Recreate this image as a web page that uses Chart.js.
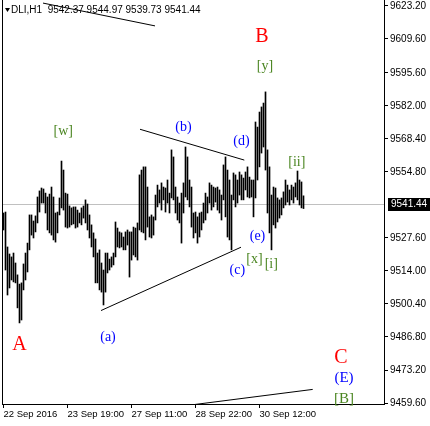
<!DOCTYPE html>
<html>
<head>
<meta charset="utf-8">
<script src="https://cdn.jsdelivr.net/npm/chart.js@4.4.0/dist/chart.umd.min.js"></script>
<style>
  html, body { margin: 0; padding: 0; background: #fff; }
  canvas { display: block; }
</style>
</head>
<body>
<canvas id="chart" width="430" height="426"></canvas>
<script>
// DLI, H1 bars (high / low), oldest first
const barHigh = [
  9537.9, 9538.3, 9523.9, 9521.0, 9519.8, 9521.4, 9517.3, 9512.4, 9508.6, 9509.1,
  9516.9, 9521.4, 9525.5, 9537.1, 9537.1, 9534.6, 9536.7, 9544.5, 9547.0, 9548.2,
  9547.8, 9546.1, 9544.5, 9545.7, 9548.6, 9544.5, 9537.9, 9538.3, 9544.1, 9559.3,
  9555.6, 9546.1, 9545.7, 9540.8, 9540.0, 9540.4, 9540.4, 9539.1, 9537.9, 9540.0,
  9540.8, 9543.3, 9541.6, 9537.1, 9533.0, 9529.7, 9527.2, 9521.4, 9522.7, 9517.3,
  9514.4, 9521.4, 9521.4, 9518.9, 9519.8, 9521.4, 9534.2, 9531.7, 9530.1, 9529.7,
  9528.0, 9530.1, 9530.9, 9530.1, 9530.1, 9532.1, 9531.7, 9533.8, 9553.6, 9555.6,
  9556.9, 9556.9, 9548.6, 9536.3, 9537.1, 9536.3, 9545.3, 9549.4, 9547.4, 9550.3,
  9548.6, 9548.2, 9551.5, 9546.1, 9563.9, 9561.0, 9548.6, 9544.5, 9542.0, 9546.1,
  9550.3, 9565.1, 9561.0, 9551.5, 9548.6, 9537.9, 9538.3, 9536.3, 9537.9, 9538.3,
  9542.0, 9546.1, 9544.5, 9550.3, 9549.4, 9548.6, 9548.2, 9548.6, 9547.4, 9545.3,
  9557.7, 9561.0, 9555.6, 9551.5, 9545.3, 9554.4, 9553.6, 9551.5, 9554.8, 9553.6,
  9552.3, 9554.8, 9556.9, 9552.7, 9551.5, 9551.5, 9575.4, 9573.3, 9579.5, 9581.6,
  9583.2, 9587.8, 9563.9, 9556.9, 9545.3, 9548.6, 9548.2, 9544.1, 9543.3, 9544.1,
  9546.6, 9551.5, 9549.4, 9547.4, 9549.4, 9548.6, 9550.3, 9555.2, 9551.5, 9550.7,
  9544.97
];
const barLow = [
  9530.9, 9514.4, 9504.1, 9507.0, 9510.3, 9509.5, 9509.1, 9498.8, 9492.6, 9493.8,
  9506.2, 9510.3, 9513.6, 9522.7, 9528.8, 9527.6, 9530.1, 9533.8, 9538.3, 9542.0,
  9542.0, 9537.9, 9530.9, 9529.7, 9528.8, 9526.8, 9525.9, 9529.7, 9537.1, 9540.0,
  9539.1, 9532.1, 9531.7, 9532.1, 9533.0, 9533.4, 9531.7, 9532.1, 9533.8, 9533.0,
  9535.8, 9533.8, 9530.9, 9527.6, 9523.9, 9519.8, 9509.1, 9509.1, 9506.2, 9505.3,
  9500.0, 9505.3, 9513.2, 9514.4, 9515.6, 9516.5, 9519.8, 9523.9, 9523.5, 9523.9,
  9522.7, 9522.7, 9524.7, 9511.5, 9518.5, 9520.6, 9519.8, 9518.5, 9530.9, 9530.1,
  9529.7, 9526.8, 9532.1, 9528.0, 9527.6, 9528.8, 9535.0, 9540.4, 9542.0, 9539.1,
  9543.3, 9538.3, 9542.0, 9537.9, 9544.1, 9543.3, 9537.9, 9535.0, 9533.8, 9525.5,
  9537.9, 9544.5, 9543.3, 9540.4, 9532.1, 9527.6, 9529.7, 9525.5, 9528.0, 9530.9,
  9533.8, 9535.0, 9537.9, 9542.0, 9539.1, 9540.4, 9542.4, 9539.1, 9537.9, 9535.0,
  9543.3, 9536.3, 9528.0, 9526.8, 9522.7, 9543.3, 9540.4, 9542.0, 9545.3, 9543.3,
  9543.3, 9547.4, 9544.5, 9544.1, 9544.5, 9536.3, 9544.1, 9551.5, 9556.9, 9562.6,
  9565.1, 9555.6, 9537.9, 9529.7, 9522.7, 9533.0, 9531.7, 9534.2, 9535.8, 9537.1,
  9540.0, 9541.2, 9542.4, 9541.2, 9543.3, 9542.0, 9544.5, 9543.3, 9541.2, 9540.0,
  9539.73
];

// last bar OHLC shown in the header
const symbolName = "DLI,H1";
const lastOhlc = [9542.37, 9544.97, 9539.73, 9541.44];
const lastPrice = 9541.44;

// axis ticks
const yTicks = [9623.2, 9609.6, 9595.6, 9582.0, 9568.4, 9554.8, 9527.6, 9514.0, 9500.4, 9486.8, 9473.2, 9459.6];
const xTickIdx = [0, 32, 64, 96, 128];
const xTickLabels = ["22 Sep 2016", "23 Sep 19:00", "27 Sep 11:00", "28 Sep 22:00", "30 Sep 12:00"];

// wave labels (bar index, price)
const waveLabels = [
  { text: "A", x: 8, y: 9483.5, color: "#ff0000", size: 20 },
  { text: "B", x: 129.25, y: 9610.4, color: "#ff0000", size: 20 },
  { text: "C", x: 168.75, y: 9478.4, color: "#ff0000", size: 20 },
  { text: "[w]", x: 29.9, y: 9571.5, color: "#4a8520", size: 14 },
  { text: "[y]", x: 130.75, y: 9598.5, color: "#4a8520", size: 14 },
  { text: "[ii]", x: 146.65, y: 9558.9, color: "#4a8520", size: 14 },
  { text: "[x]", x: 125.5, y: 9518.9, color: "#4a8520", size: 14 },
  { text: "[i]", x: 133.9, y: 9516.8, color: "#4a8520", size: 14 },
  { text: "[B]", x: 170.25, y: 9461.3, color: "#4a8520", size: 15 },
  { text: "(E)", x: 170.25, y: 9469.7, color: "#0000ff", size: 15 },
  { text: "(a)", x: 52.25, y: 9486.8, color: "#0000ff", size: 14 },
  { text: "(b)", x: 90, y: 9573.0, color: "#0000ff", size: 14 },
  { text: "(c)", x: 116.9, y: 9514.2, color: "#0000ff", size: 14 },
  { text: "(d)", x: 119, y: 9567.3, color: "#0000ff", size: 14 },
  { text: "(e)", x: 127, y: 9528.2, color: "#0000ff", size: 14 }
];

// trend lines, each as two (bar index, price) points
const trendLines = [
  [{ x: 19.75, y: 9624.4 }, { x: 75.75, y: 9615.0 }],
  [{ x: 68.25, y: 9572.4 }, { x: 120.4, y: 9559.7 }],
  [{ x: 48.75, y: 9497.7 }, { x: 118.75, y: 9523.8 }],
  [{ x: 95.75, y: 9459.0 }, { x: 154.6, y: 9465.2 }]
];

const datasets = [];
datasets.push({
    type: 'bar',
    data: barHigh.map((h, i) => ({ x: i, y: [barLow[i], h] })),
    backgroundColor: '#000',
    borderWidth: 0,
    barThickness: 1,
    order: 2
});
trendLines.forEach(pts => {
    datasets.push({
        type: 'line',
        data: pts,
        borderColor: '#000',
        borderWidth: 1,
        pointRadius: 0,
        order: 1
    });
});

const extras = {
    id: 'extras',
    beforeDatasetsDraw(chart) {
        const ctx = chart.ctx, a = chart.chartArea;
        const y = Math.round(chart.scales.y.getPixelForValue(lastPrice)) + 0.5;
        ctx.save();
        ctx.strokeStyle = '#c0c0c0';
        ctx.lineWidth = 1;
        ctx.beginPath();
        ctx.moveTo(a.left, y);
        ctx.lineTo(a.right, y);
        ctx.stroke();
        // left frame
        ctx.strokeStyle = '#000';
        ctx.beginPath();
        ctx.moveTo(a.left + 0.5, a.top);
        ctx.lineTo(a.left + 0.5, a.bottom);
        ctx.stroke();
        ctx.restore();
    },
    afterDraw(chart) {
        const ctx = chart.ctx;
        const xs = chart.scales.x, ys = chart.scales.y;
        ctx.save();
        ctx.textAlign = 'center';
        ctx.textBaseline = 'middle';
        waveLabels.forEach(l => {
            ctx.fillStyle = l.color;
            ctx.font = l.size + 'px "Liberation Serif"';
            ctx.fillText(l.text, xs.getPixelForValue(l.x), ys.getPixelForValue(l.y));
        });

        // header
        ctx.fillStyle = '#000';
        ctx.beginPath();
        ctx.moveTo(5, 8);
        ctx.lineTo(10, 8);
        ctx.lineTo(7.5, 12);
        ctx.closePath();
        ctx.fill();
        ctx.textAlign = 'left';
        ctx.font = '10px "Liberation Sans"';
        ctx.fillText(symbolName + "  " + lastOhlc.map(v => v.toFixed(2)).join(" "), 11, 10);

        // current price box
        const y = Math.round(ys.getPixelForValue(lastPrice));
        ctx.fillStyle = '#000';
        ctx.fillRect(388, y - 6, 42, 13);
        ctx.fillStyle = '#fff';
        ctx.fillText(lastPrice.toFixed(2), 391, y + 0.5);
        ctx.restore();
    }
};

new Chart(document.getElementById('chart'), {
    type: 'bar',
    data: { datasets: datasets },
    options: {
        responsive: false,
        animation: false,
        layout: { padding: { left: 2, top: 0, right: 0, bottom: 0 } },
        plugins: { legend: { display: false }, tooltip: { enabled: false } },
        scales: {
            x: {
                type: 'linear',
                min: -0.75,
                max: 190.25,
                offset: false,
                afterBuildTicks: s => { s.ticks = xTickIdx.map(v => ({ value: v })); },
                afterFit: s => { s.height = 22; s.paddingLeft = 0; s.paddingRight = 0; },
                grid: { drawOnChartArea: false, color: '#000', tickLength: 4, offset: false },
                border: { color: '#000' },
                ticks: {
                    autoSkip: false,
                    maxRotation: 0,
                    align: 'start',
                    padding: 1,
                    color: '#000',
                    font: { family: 'Liberation Sans', size: 9.5 },
                    callback: (v, i) => xTickLabels[i]
                }
            },
            y: {
                type: 'linear',
                position: 'right',
                min: 9459.19,
                max: 9625.67,
                afterBuildTicks: s => { s.ticks = yTicks.map(v => ({ value: v })); },
                afterFit: s => { s.width = 46; s.paddingTop = 0; s.paddingBottom = 0; },
                grid: { drawOnChartArea: false, color: '#000', tickLength: 4 },
                border: { color: '#000' },
                ticks: {
                    color: '#000',
                    padding: 2,
                    font: { family: 'Liberation Sans', size: 10 },
                    callback: v => v.toFixed(2)
                }
            }
        }
    },
    plugins: [extras]
});
</script>
</body>
</html>
